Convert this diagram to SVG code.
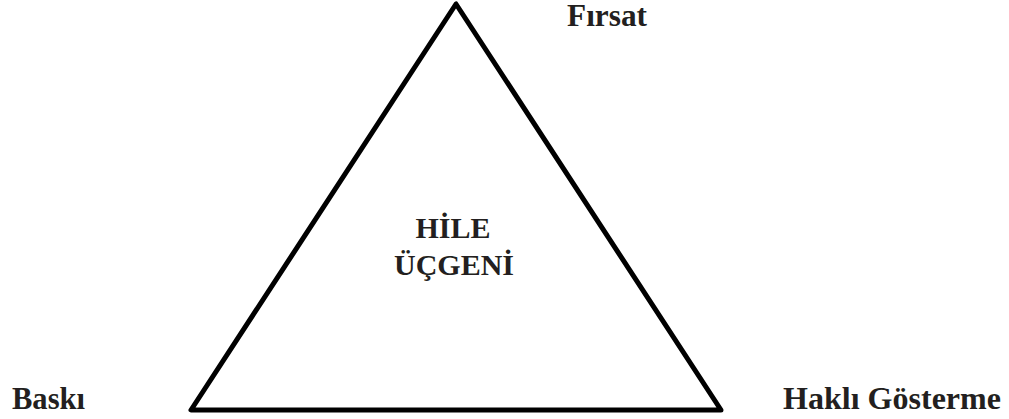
<svg xmlns="http://www.w3.org/2000/svg" width="1009" height="419" viewBox="0 0 1009 419">
<style>
.lbl{font-family:"Liberation Serif","Times New Roman",serif;font-weight:bold;font-size:31px;fill:#231f20}
.ctr{font-family:"Liberation Serif","Times New Roman",serif;font-weight:bold;font-size:30px;fill:#231f20;text-anchor:middle}
</style>
<rect width="1009" height="419" fill="#fff"/>
<g id="triangle">
<polygon points="456,4 191,410 721,410" fill="none" stroke="#000" stroke-width="5" stroke-linejoin="round"/>
<text class="ctr" x="453" y="238">HİLE</text>
<text class="ctr" x="454" y="275">ÜÇGENİ</text>
</g>
<g id="firsat"><text class="lbl" x="567" y="26" textLength="80" lengthAdjust="spacingAndGlyphs">Fırsat</text></g>
<g id="baski"><text class="lbl" x="12" y="409" textLength="73" lengthAdjust="spacingAndGlyphs">Baskı</text></g>
<g id="hakli"><text class="lbl" x="783" y="409" textLength="218" lengthAdjust="spacingAndGlyphs">Haklı Gösterme</text></g>
<g id="connectors"></g>
</svg>
